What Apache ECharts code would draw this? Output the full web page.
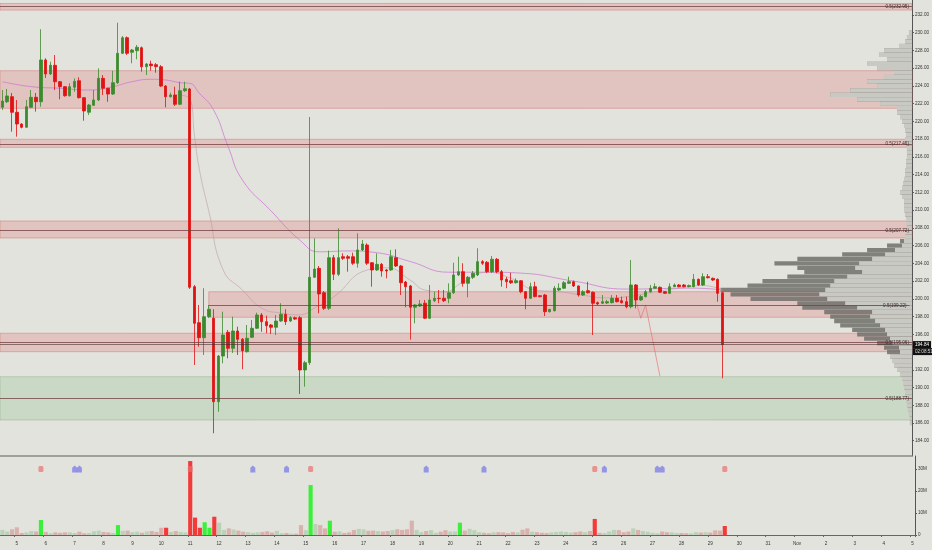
<!DOCTYPE html>
<html>
<head>
<meta charset="utf-8">
<script src="https://cdn.jsdelivr.net/npm/echarts@6/dist/echarts.min.js"></script>
<style>
html,body{margin:0;padding:0;background:#e3e3dd;}
#chart{width:932px;height:550px;}
</style>
</head>
<body>
<div id="chart"></div>
<script>
// 4h candles [open, close, low, high], first one = Oct 4 12:00
var candles = [
[221.59,222.30,221.29,223.54],[222.22,222.87,222.08,223.66],[222.79,221.03,218.84,223.21],[221.03,219.71,218.28,222.42],
[219.71,219.34,219.22,219.80],[219.34,221.66,219.30,222.42],[221.59,222.72,221.50,223.54],[222.72,222.22,221.10,223.21],
[222.22,226.93,221.66,230.39],[226.93,225.35,224.90,227.12],[225.35,226.33,225.23,226.73],[226.33,224.48,223.54,227.49],
[224.48,223.92,222.50,224.56],[223.92,222.90,222.79,223.99],[222.90,223.92,222.80,224.30],[223.85,224.52,223.35,224.86],
[224.59,222.68,222.59,224.98],[222.68,221.18,220.08,222.75],[221.03,221.85,220.72,221.96],[221.82,222.42,221.74,223.54],
[222.42,224.86,222.30,225.99],[224.86,223.74,222.98,225.23],[223.74,223.09,222.22,223.77],[223.09,224.37,222.98,225.72],
[224.37,227.68,224.22,231.13],[227.68,229.44,227.60,229.63],[229.44,227.68,227.49,229.58],[227.79,228.05,226.55,228.17],
[227.97,228.36,227.00,228.62],[228.31,226.17,225.61,228.45],[226.17,226.47,225.23,226.59],[226.47,226.28,225.72,226.85],
[226.40,226.17,225.49,226.59],[226.17,223.99,223.88,226.36],[223.99,222.79,221.59,224.10],[222.79,222.98,222.70,223.24],
[222.98,221.93,221.74,223.92],[221.93,223.47,221.85,224.48],[223.47,223.69,223.32,224.48],[223.66,201.30,201.11,223.77],
[201.37,197.24,192.54,201.56],[197.31,195.62,194.60,199.31],[195.62,197.99,193.67,201.19],[197.99,198.82,197.84,199.31],
[197.81,188.40,184.84,198.82],[188.40,193.55,187.27,193.67],[193.55,195.92,192.73,198.55],[196.23,194.42,193.30,196.49],
[194.42,196.37,193.90,197.99],[196.37,195.44,193.67,196.86],[195.44,194.15,192.06,195.58],[194.04,195.55,193.95,197.05],
[195.66,196.68,195.58,197.61],[196.68,198.18,196.60,198.44],[198.18,197.42,196.29,198.40],[197.42,196.97,196.11,198.10],
[197.05,196.79,196.03,197.17],[196.79,197.50,195.92,198.18],[197.50,198.26,197.39,199.50],[198.26,197.42,197.05,198.82],
[197.50,197.87,197.39,198.06],[197.87,197.72,197.61,198.00],[197.87,191.98,189.27,198.06],[191.98,192.80,190.09,193.00],
[192.80,202.43,192.54,220.50],[202.43,203.36,202.35,206.82],[203.44,200.55,198.37,203.70],[200.69,198.93,198.74,200.88],
[198.93,204.64,198.74,205.43],[204.64,202.77,202.12,204.94],[202.77,204.64,202.57,207.95],[204.75,204.57,204.38,205.13],
[204.75,204.57,203.06,204.94],[204.75,204.01,203.82,205.20],[204.01,205.51,203.51,207.39],[205.51,206.18,205.39,206.63],
[206.07,204.01,203.82,206.26],[204.07,203.25,201.37,204.15],[203.25,203.89,203.14,205.13],[203.89,203.14,202.50,204.04],
[203.25,203.14,202.31,203.36],[203.25,204.75,203.14,205.51],[204.64,203.70,203.59,205.58],[203.70,201.82,200.43,203.82],
[201.90,201.37,199.05,202.01],[201.45,199.05,195.40,201.56],[199.05,199.31,197.24,199.42],[199.19,199.42,199.08,199.87],
[199.50,197.81,197.73,199.87],[197.81,199.87,197.73,201.56],[199.79,200.06,199.64,200.81],[200.06,200.03,199.50,201.00],
[200.06,199.79,199.64,201.00],[200.06,200.69,199.50,201.75],[200.69,202.69,200.55,204.07],[202.69,203.06,202.57,204.75],
[203.06,201.75,201.37,204.01],[201.75,202.43,200.17,202.57],[202.43,202.88,202.23,203.14],[202.69,204.19,202.57,205.70],
[204.19,204.01,203.82,204.38],[204.12,203.06,202.91,204.26],[203.06,204.46,202.91,204.83],[204.46,203.06,202.88,204.60],
[203.06,202.12,201.37,203.25],[202.20,201.93,201.19,202.46],[202.04,201.82,201.67,202.94],[201.82,202.04,201.73,202.31],
[202.04,200.80,200.62,202.12],[200.80,200.06,198.82,200.88],[200.06,201.37,199.98,201.82],[201.37,200.25,200.16,201.93],
[200.35,200.25,200.16,200.43],[200.43,198.55,198.06,200.55],[198.55,198.82,198.46,198.85],[198.66,201.19,198.57,201.45],
[200.99,201.19,200.88,201.75],[201.19,201.82,201.11,202.01],[201.75,201.93,201.67,202.50],[201.93,201.45,201.33,202.06],
[201.45,200.43,200.25,201.50],[200.43,200.80,200.32,200.99],[200.92,200.69,200.60,201.93],[200.74,199.50,195.92,200.83],
[199.57,199.42,199.31,199.70],[199.50,199.68,199.42,200.43],[199.53,199.68,199.42,199.87],[199.57,200.06,199.47,200.43],
[200.06,199.68,199.59,200.43],[199.79,199.57,199.47,200.25],[199.68,199.11,198.93,200.25],[199.11,201.56,198.93,204.38],
[201.56,199.87,198.93,201.67],[199.87,200.25,199.76,200.43],[200.25,200.80,200.16,200.99],[200.80,201.19,200.70,201.56],
[201.19,201.37,201.11,201.75],[201.30,200.74,200.66,201.39],[200.80,200.62,200.55,200.88],[200.62,201.37,200.55,201.75],
[201.37,201.56,201.33,201.73],[201.56,201.37,201.29,201.67],[201.56,201.37,201.29,201.67],[201.37,201.50,201.29,201.61],
[201.37,202.20,201.29,202.80],[202.20,201.56,201.45,202.29],[201.56,202.50,201.45,202.88],[202.50,202.38,202.31,202.80],
[202.31,202.12,202.01,202.40],[202.20,200.62,199.68,202.29],[200.69,194.84,191.04,200.77]
];

// volume per candle, millions
var volumes = [
2.3,1.6,2.6,3.5,0.9,1.2,1.8,1.6,6.8,1.4,
0.8,1.2,1.0,1.2,1.2,0.9,1.5,0.8,0.9,1.7,
2.0,1.4,1.2,0.9,4.5,1.9,2.0,1.3,1.5,1.0,
1.6,1.8,1.4,3.3,3.3,1.4,1.8,1.4,1.2,33.6,
7.9,3.3,5.8,3.3,8.3,5.6,2.3,3.0,2.5,2.0,
1.5,1.3,1.0,1.2,1.4,1.7,1.1,1.9,0.8,0.9,
0.6,0.6,4.5,2.2,22.7,5.0,4.5,3.0,6.5,1.5,
1.6,0.9,1.2,2.3,2.8,2.6,1.9,2.0,1.8,1.6,
1.8,2.2,2.6,2.3,2.6,6.5,2.3,1.3,1.8,2.2,
1.0,1.5,2.2,1.6,1.6,5.6,2.0,2.8,2.2,1.3,
1.0,0.8,1.2,1.3,1.2,0.8,1.4,1.2,2.4,3.0,
1.5,1.3,1.0,0.9,1.2,1.4,1.6,1.4,1.1,1.3,
1.6,1.3,1.8,7.3,1.0,0.9,1.6,2.3,2.2,1.3,
1.6,3.0,2.3,1.8,1.5,1.0,0.8,1.6,1.3,1.2,
0.9,0.9,0.8,0.7,1.3,1.1,1.3,1.1,2.1,2.0,
4.1
];
var hotBars = [8,24,34,39,40,41,42,43,44,64,68,95,123,150];
var redFlags = [8,39,64,123,150];
var blueFlags = [15,16,52,59,88,100,125,136,137];

// moving averages: [candle index, price]
var slowMA = [[0,224.48],[6,223.92],[12,223.74],[18,223.54],[23,223.92],[27,224.48],[31,224.75],[34,224.67],[37,224.37],[39,224.30],
  [41,223.20],[44,221.30],[47,217.20],[50,213.40],[56,209.90],[62,206.60],[66,205.30],[72,205.40],[78,205.20],[85,204.20],
  [93,203.00],[101,203.00],[108,202.90],[119,202.00],[130,201.10],[144,201.20],[150,201.00]];
var fastMA = [[36,223.0],[39,222.6],[40,218.5],[41,214.7],[43,209.9],[46,203.25],[50,201.0],[54,198.96],[58,198.4],[62,198.2],
  [65,198.96],[69,200.2],[76,203.25],[80,203.5],[85,202.1],[88,201.0],[92,200.8],[96,201.9],[101,203.0],[106,202.3],
  [111,201.0],[116,200.8],[121,200.4],[126,200.1],[131,200.3],[136,200.8],[141,201.2],[146,201.5],[150,201.0]];
var drawnLine = [[132,199.81],[133,197.81],[134,199.31],[137,191.27]];

// zones [low, high]
var redZones = [[232.55,233.30],[221.48,225.72],[217.08,217.99],[206.86,208.78],[194.04,196.12]];
var lateZone = [197.92,200.80];
var lateZoneStart = 43;
var greenZone = [186.34,191.22];
var midLines = [232.95,217.46,207.72,195.06,188.77];
var lateMid = 199.22;
var lastPrice = 194.84;

// volume profile rows (price bin centre, total, part nearest axis)
var profPrice = [230,229.5,229,228.5,228,227.5,227,226.5,226,225.5,225,224.5,224,223.5,223,222.5,222,221.5,221,220.5,220,219.5,219,218.5,218,217.5,217,216.5,216,215.5,215,214.5,214,213.5,213,212.5,212,211.5,211,210.5,210,209.5,209,208.5,208,207.5,207,
  206.5,206,205.5,205,204.5,204,203.5,203,202.5,202,201.5,201,200.5,200,199.5,199,198.5,198,197.5,197,196.5,196,195.5,195,194.5,194,
  193.5,193,192.5,192,191.5,191,190.5,190,189.5,189,188.5,188,187.5,187,186.5,186];
var profTotal = [3,5,7,13,28,33,25,45,35,18,28,45,35,62,82,55,32,15,15,12,10,8,7,6,7,6,5,5,5,6,6,7,7,8,9,10,12,10,8,8,8,7,6,5,5,6,7,
  12,25,45,70,115,138,115,108,125,150,165,192,182,162,115,110,88,82,78,72,60,55,48,35,28,25,
  22,20,18,15,12,10,9,8,7,7,6,5,4,3,2,2];
var profLight = [3,5,7,13,28,33,25,45,35,18,28,45,35,62,82,55,32,15,15,12,10,8,7,6,7,6,5,5,5,6,6,7,7,8,9,10,12,10,8,8,8,7,6,5,5,6,7,
  8,10,17,27,40,53,57,50,65,78,82,87,93,85,67,55,40,42,37,32,27,25,22,20,13,12,
  22,20,18,15,12,10,9,8,7,7,6,5,4,3,2,2];

var priceTicks = [184,186,188,190,192,194,196,198,200,202,204,206,208,210,212,214,216,218,220,222,224,226,228,230,232];
var volTicks = [0,10,20,30];
var dayLabels = ['5','6','7','8','9','10','11','12','13','14','15','16','17','18','19','20','21','22','23','24','25','26','27','28','29','30','31','Nov','2','3','4','5'];
var slotCount = 190;

var chart = echarts.init(document.getElementById('chart'));

var times = [];
var start = Date.UTC(2019, 9, 4, 12);
for (var k = 0; k < slotCount; k++) {
  var d = new Date(start + k * 4 * 3600 * 1000);
  times.push((d.getUTCMonth() + 1) + '-' + d.getUTCDate() + ' ' + d.getUTCHours() + ':00');
}
function isDay(i) { return (i - 3) % 6 === 0; }

var volData = volumes.map(function (v, i) {
  var up = candles[i][1] >= candles[i][0];
  var hot = hotBars.indexOf(i) >= 0;
  var c = hot ? (up ? '#3af03a' : '#f23a3a') : (up ? 'rgba(120,185,120,0.38)' : 'rgba(205,115,115,0.45)');
  return { value: v, itemStyle: { color: c } };
});

var zoneData = redZones.map(function (z) { return [{ yAxis: z[1] }, { yAxis: z[0] }]; });
zoneData.push([{ coord: [lateZoneStart, lateZone[1]] }, { coord: [slotCount - 1, lateZone[0]] }]);
zoneData.push([{ yAxis: greenZone[1], itemStyle: { color: 'rgba(150,195,145,0.32)', borderColor: 'rgba(130,170,125,0.4)' } }, { yAxis: greenZone[0] }]);

var lineLabel = {
  show: true, position: 'insideEnd', distance: 3, fontSize: 4.6, color: '#3a2c2c',
  fontFamily: 'Liberation Sans',
  formatter: function (p) { return '0.5(' + p.value.toFixed(2) + ')'; }
};
var midData = midLines.map(function (v) { return { yAxis: v }; });
midData.push([{ coord: [lateZoneStart, lateMid], value: lateMid }, { coord: [slotCount - 1, lateMid], value: lateMid }]);

var profData = profPrice.map(function (p, i) { return [p, profTotal[i], profLight[i]]; });

var labelFont = { fontSize: 4.6, color: '#333', fontFamily: 'Liberation Sans' };

var option = {
  backgroundColor: '#e3e3dd',
  animation: false,
  grid: [
    { left: 0, right: 17, top: 0, height: 456 },
    { left: 0, right: 17, top: 456, height: 79 }
  ],
  xAxis: [
    { type: 'category', gridIndex: 0, data: times, boundaryGap: true,
      axisLine: { show: true, lineStyle: { color: '#8a8a85', width: 1.5 } },
      axisTick: { show: false }, axisLabel: { show: false }, splitLine: { show: false } },
    { type: 'category', gridIndex: 1, data: times, boundaryGap: true, offset: 3,
      axisLine: { show: true, lineStyle: { color: '#666', width: 1 } },
      axisTick: { show: true, interval: function (i) { return isDay(i); }, length: 2, lineStyle: { color: '#666' } },
      axisLabel: Object.assign({ interval: function (i) { return isDay(i); }, margin: 3,
        formatter: function (v, i) { return dayLabels[(i - 3) / 6]; } }, labelFont),
      splitLine: { show: false } },
    { type: 'value', gridIndex: 0, min: 0, max: 915, inverse: true, show: false }
  ],
  yAxis: [
    { type: 'value', gridIndex: 0, position: 'right', min: 182.28, max: 233.69, scale: true,
      axisLine: { show: true, lineStyle: { color: '#555' } },
      axisTick: { show: true, customValues: priceTicks, length: 2, lineStyle: { color: '#555' } },
      axisLabel: Object.assign({ customValues: priceTicks, margin: 3,
        formatter: function (v) { return v.toFixed(2); } }, labelFont),
      splitLine: { show: false } },
    { type: 'value', gridIndex: 1, position: 'right', min: 0, max: 35.9,
      axisLine: { show: true, lineStyle: { color: '#555' } },
      axisTick: { show: true, customValues: volTicks, length: 2, lineStyle: { color: '#555' } },
      axisLabel: Object.assign({ customValues: volTicks, margin: 3,
        formatter: function (v) { return v ? v + 'M' : '0'; } }, labelFont),
      splitLine: { show: false } }
  ],
  series: [
    { // volume profile
      type: 'custom', xAxisIndex: 2, yAxisIndex: 0, z: 1, silent: true,
      encode: { x: 1, y: 0 },
      data: profData,
      renderItem: function (params, api) {
        var p = api.value(0);
        var a = api.coord([0, p + 0.24]);
        var b = api.coord([api.value(1), p - 0.24]);
        var c = api.coord([api.value(2), p]);
        var h = b[1] - a[1];
        return { type: 'group', children: [
          { type: 'rect', shape: { x: b[0], y: a[1], width: a[0] - b[0], height: h }, style: { fill: 'rgba(112,112,106,0.85)' } },
          { type: 'rect', shape: { x: c[0], y: a[1], width: a[0] - c[0], height: h }, style: { fill: '#c9c9c3' } }
        ] };
      }
    },
    { // zones and levels
      type: 'line', xAxisIndex: 0, yAxisIndex: 0, z: 2, data: [], silent: true,
      markArea: {
        silent: true,
        itemStyle: { color: 'rgba(222,110,110,0.27)', borderColor: 'rgba(205,100,100,0.4)', borderWidth: 1 },
        data: zoneData
      },
      markLine: {
        silent: true, symbol: ['none', 'none'],
        lineStyle: { color: 'rgba(110,60,60,0.75)', width: 1, type: 'solid' },
        label: lineLabel,
        data: midData
      }
    },
    { // last price
      type: 'line', xAxisIndex: 0, yAxisIndex: 0, z: 6, data: [], silent: true,
      markLine: {
        silent: true, symbol: ['none', 'none'],
        lineStyle: { color: 'rgba(60,40,40,0.7)', width: 0.8, type: 'solid' },
        label: { show: true, position: 'end', distance: 1, offset: [0, 3.5],
          formatter: '{a|' + lastPrice.toFixed(2) + '}\n{b|02:08:51}',
          rich: {
            a: { backgroundColor: '#111', color: '#fff', fontSize: 4.6, padding: [1, 2], fontFamily: 'Liberation Sans' },
            b: { backgroundColor: '#111', color: '#ddd', fontSize: 4.6, padding: [1, 2], fontFamily: 'Liberation Sans' }
          } },
        data: [{ yAxis: lastPrice }]
      }
    },
    { type: 'line', xAxisIndex: 0, yAxisIndex: 0, z: 3, data: slowMA, smooth: true, symbol: 'none', silent: true,
      lineStyle: { color: 'rgba(205,120,210,0.85)', width: 0.9 } },
    { type: 'line', xAxisIndex: 0, yAxisIndex: 0, z: 3, data: fastMA, smooth: true, symbol: 'none', silent: true,
      lineStyle: { color: 'rgba(185,150,160,0.7)', width: 0.8 } },
    { type: 'line', xAxisIndex: 0, yAxisIndex: 0, z: 3, data: drawnLine, symbol: 'none', silent: true,
      lineStyle: { color: 'rgba(230,110,110,0.8)', width: 0.8 } },
    { type: 'candlestick', xAxisIndex: 0, yAxisIndex: 0, z: 4, data: candles, barWidth: '66%',
      itemStyle: { color: '#3c8a2e', color0: '#e01212', borderColor: '#3c8a2e', borderColor0: '#e01212', borderWidth: 0.8 } },
    { type: 'bar', xAxisIndex: 1, yAxisIndex: 1, data: volData, barWidth: '86%', z: 2 },
    { type: 'scatter', xAxisIndex: 1, yAxisIndex: 1, z: 5, symbol: 'roundRect', symbolSize: [5, 6],
      itemStyle: { color: 'rgba(236,110,110,0.85)' },
      data: redFlags.map(function (i) { return [i, 30]; }) },
    { type: 'scatter', xAxisIndex: 1, yAxisIndex: 1, z: 5,
      symbol: 'path://M0,3 L3,0 L6,3 L6,9 L0,9 Z', symbolSize: [5, 7],
      itemStyle: { color: 'rgba(105,105,235,0.8)' },
      data: blueFlags.map(function (i) { return [i, 30]; }) }
  ]
};
chart.setOption(option);
</script>
</body>
</html>
